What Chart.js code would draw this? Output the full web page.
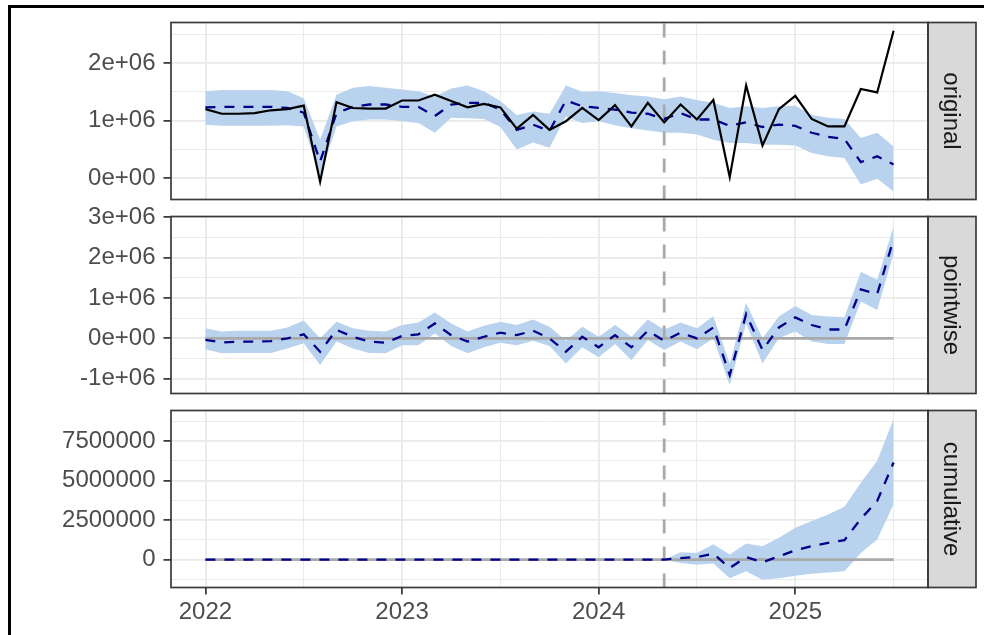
<!DOCTYPE html>
<html>
<head>
<meta charset="utf-8">
<script src="https://cdn.jsdelivr.net/npm/chart.js@4/dist/chart.umd.min.js"></script>
<style>
html,body{margin:0;padding:0;background:#fff;width:984px;height:635px;overflow:hidden;}
#frame{position:absolute;left:8px;top:5px;width:1000px;height:700px;border-left:3px solid #000;border-top:3px solid #000;box-sizing:border-box;}
canvas{position:absolute;left:0;top:0;}
</style>
</head>
<body>
<div id="frame"></div>
<canvas id="c1" width="984" height="635" style="width:984px;height:635px"></canvas>
<canvas id="c2" width="984" height="635" style="width:984px;height:635px"></canvas>
<canvas id="c3" width="984" height="635" style="width:984px;height:635px"></canvas>
<script>
// ---------------- DATA (values in millions) ----------------
const months = [
 '2022-01','2022-02','2022-03','2022-04','2022-05','2022-06','2022-07','2022-08','2022-09','2022-10','2022-11','2022-12',
 '2023-01','2023-02','2023-03','2023-04','2023-05','2023-06','2023-07','2023-08','2023-09','2023-10','2023-11','2023-12',
 '2024-01','2024-02','2024-03','2024-04','2024-05','2024-06','2024-07','2024-08','2024-09','2024-10','2024-11','2024-12',
 '2025-01','2025-02','2025-03','2025-04','2025-05','2025-06','2025-07'];
const interventionMonth = '2024-05';
const M = 1e6;

// panel "original"
const actual = [1.20,1.12,1.12,1.13,1.18,1.20,1.26,-0.06,1.32,1.22,1.21,1.21,1.35,1.35,1.45,1.34,1.23,1.29,1.23,0.86,1.10,0.84,0.99,1.22,1.01,1.27,0.90,1.31,0.97,1.28,1.02,1.36,0.02,1.61,0.57,1.20,1.43,1.03,0.90,0.90,1.55,1.49,2.56];
const predicted = [1.23,1.24,1.24,1.24,1.24,1.22,1.14,0.29,1.13,1.24,1.28,1.28,1.24,1.24,1.08,1.28,1.31,1.31,1.19,0.84,0.93,0.82,1.35,1.25,1.22,1.19,1.14,1.12,1.03,1.13,1.02,1.02,0.91,0.97,0.89,0.93,0.91,0.79,0.72,0.68,0.28,0.38,0.24];
const predUpper = [1.51,1.53,1.53,1.53,1.53,1.51,1.39,0.67,1.45,1.57,1.60,1.57,1.54,1.51,1.42,1.56,1.61,1.51,1.34,1.10,1.16,1.12,1.61,1.50,1.51,1.48,1.44,1.42,1.37,1.42,1.36,1.31,1.22,1.25,1.22,1.25,1.26,1.10,1.05,1.03,0.70,0.79,0.55];
const predLower = [0.93,0.91,0.91,0.91,0.91,0.92,0.90,0.03,0.90,0.99,1.02,1.02,0.99,0.96,0.79,1.05,1.04,1.03,0.89,0.50,0.62,0.53,1.07,0.96,0.99,0.92,0.87,0.83,0.79,0.79,0.76,0.67,0.61,0.61,0.58,0.58,0.57,0.44,0.38,0.35,-0.11,-0.01,-0.23];

// panel "pointwise"
const pointwise = [-0.04,-0.10,-0.08,-0.08,-0.07,0.00,0.10,-0.33,0.21,0.04,-0.08,-0.11,0.06,0.10,0.37,0.08,-0.08,0.04,0.14,0.08,0.19,0.00,-0.33,0.04,-0.22,0.08,-0.22,0.19,-0.06,0.14,0.00,0.27,-0.91,0.60,-0.29,0.27,0.52,0.33,0.22,0.22,1.21,1.10,2.45];
const pointUpper = [0.25,0.17,0.19,0.19,0.19,0.27,0.44,0.00,0.41,0.25,0.19,0.17,0.33,0.39,0.64,0.37,0.17,0.31,0.41,0.33,0.47,0.29,-0.06,0.29,0.04,0.33,0.04,0.47,0.22,0.39,0.25,0.55,-0.62,0.88,0.00,0.54,0.80,0.58,0.54,0.52,1.65,1.45,2.77];
const pointLower = [-0.27,-0.37,-0.36,-0.36,-0.36,-0.25,-0.12,-0.66,-0.08,-0.25,-0.36,-0.37,-0.17,-0.17,0.12,-0.19,-0.37,-0.22,-0.11,-0.17,-0.06,-0.19,-0.62,-0.22,-0.47,-0.14,-0.54,-0.04,-0.29,-0.08,-0.27,0.00,-1.16,0.37,-0.62,0.00,0.17,-0.08,-0.14,-0.14,0.91,0.70,2.11];

// panel "cumulative"
const cumulative = [0,0,0,0,0,0,0,0,0,0,0,0,0,0,0,0,0,0,0,0,0,0,0,0,0,0,0,0,0,0.10,0.17,0.38,-0.53,0.17,-0.17,0.21,0.59,0.85,1.06,1.23,2.58,3.71,6.14];
const cumUpper = [0,0,0,0,0,0,0,0,0,0,0,0,0,0,0,0,0,0,0,0,0,0,0,0,0,0,0,0,0,0.47,0.42,0.98,0.32,1.02,0.85,1.38,2.01,2.44,2.86,3.35,4.87,6.25,8.90];
const cumLower = [0,0,0,0,0,0,0,0,0,0,0,0,0,0,0,0,0,0,0,0,0,0,0,0,0,0,0,0,0,-0.21,-0.32,-0.25,-1.17,-0.74,-1.27,-1.17,-1.02,-0.89,-0.81,-0.74,0.42,1.27,3.50];

const baselineValue = 0;

// tick labels
const xTickMonths = ['2022-01','2023-01','2024-01','2025-01'];
const xTickLabels = ['2022','2023','2024','2025'];
const xMinorMonths = ['2022-07','2023-07','2024-07','2025-07'];

const origTicks = [0, 1, 2];
const origTickLabels = ['0e+00','1e+06','2e+06'];
const origMinor = [0.5, 1.5, 2.5];

const pointTicks = [-1, 0, 1, 2, 3];
const pointTickLabels = ['-1e+06','0e+00','1e+06','2e+06','3e+06'];
const pointMinor = [-0.5, 0.5, 1.5, 2.5];

const cumTicks = [0, 2.5, 5, 7.5];
const cumTickLabels = ['0','2500000','5000000','7500000'];
const cumMinor = [-1.25, 1.25, 3.75, 6.25, 8.75];

const stripLabels = ['original','pointwise','cumulative'];

// ---------------- DRAWING ----------------
const FONT = '"Liberation Sans", Arial, Helvetica, sans-serif';
const FSIZE = 24;
Chart.defaults.font.family = FONT;
Chart.defaults.font.size = FSIZE;

const xIdx = m => months.indexOf(m);
const toPts = arr => arr.map((v, i) => ({x: i, y: v * M}));
const vIdx = xIdx(interventionMonth);
const X_MIN = -2.1, X_MAX = 44.1;

const panelDeco = {
  id: 'panelDeco',
  afterDraw(chart, args, opts) {
    const {ctx, chartArea: a} = chart;
    ctx.save();
    const sw = 48;
    ctx.fillStyle = '#d9d9d9';
    ctx.fillRect(a.right, a.top, sw, a.bottom - a.top);
    ctx.strokeStyle = '#3a3a3a';
    ctx.lineWidth = 1.7;
    ctx.strokeRect(a.right, a.top, sw, a.bottom - a.top);
    ctx.strokeRect(a.left, a.top, a.right - a.left, a.bottom - a.top);
    ctx.translate(a.right + sw / 2, (a.top + a.bottom) / 2);
    ctx.rotate(Math.PI / 2);
    ctx.fillStyle = '#1a1a1a';
    ctx.font = FSIZE + 'px ' + FONT;
    ctx.textAlign = 'center';
    ctx.textBaseline = 'middle';
    ctx.fillText(opts.label, 0, 1);
    ctx.restore();
  }
};

function makePanel(id, cfg) {
  const yMajor = cfg.yTicks.map(v => v * M);
  const yMinor = cfg.yMinor.map(v => v * M);
  const xMajor = xTickMonths.map(xIdx);
  const xMinor = xMinorMonths.map(xIdx);
  const isMajY = v => yMajor.some(t => Math.abs(t - v) < 1);
  const isMajX = v => xMajor.includes(v);

  const datasets = [];
  if (cfg.actual) datasets.push({data: toPts(cfg.actual), borderColor: '#000', borderWidth: 2.2, pointRadius: 0, fill: false, tension: 0});
  datasets.push({data: toPts(cfg.mean), borderColor: '#00008b', borderWidth: 2.3, borderDash: [10, 9], pointRadius: 0, fill: false, tension: 0});
  datasets.push({data: [{x: vIdx, y: cfg.yMin * M}, {x: vIdx, y: cfg.yMax * M}], borderColor: '#a9a9a9', borderWidth: 2.8, borderDash: [14, 13], pointRadius: 0, fill: false});
  if (cfg.baseline) datasets.push({data: [{x: 0, y: baselineValue}, {x: months.length - 1, y: baselineValue}], borderColor: '#a9a9a9', borderWidth: 2.8, pointRadius: 0, fill: false});
  datasets.push({data: toPts(cfg.upper), borderColor: 'rgba(0,0,0,0)', borderWidth: 0, backgroundColor: '#b9d3ee', pointRadius: 0, fill: '+1', tension: 0});
  datasets.push({data: toPts(cfg.lower), borderColor: 'rgba(0,0,0,0)', borderWidth: 0, pointRadius: 0, fill: false, tension: 0});

  return new Chart(document.getElementById(id), {
    type: 'line',
    data: {datasets},
    plugins: [panelDeco],
    options: {
      responsive: false,
      animation: false,
      events: [],
      layout: {padding: {top: cfg.padTop, bottom: cfg.padBottom, left: 0, right: 56}},
      plugins: {legend: {display: false}, tooltip: {enabled: false}, panelDeco: {label: cfg.strip}},
      scales: {
        x: {
          type: 'linear', min: X_MIN, max: X_MAX,
          border: {display: false},
          afterBuildTicks: s => { s.ticks = [...xMajor, ...xMinor].sort((a, b) => a - b).map(v => ({value: v})); },
          afterFit: s => { s.height = cfg.showX ? 47.5 : 0; },
          grid: {
            color: '#e9e9e9',
            lineWidth: c => isMajX(c.tick.value) ? 1.8 : 0.9,
            drawTicks: cfg.showX,
            tickLength: 7,
            tickWidth: 1.7,
            tickColor: c => isMajX(c.tick.value) ? '#333' : 'rgba(0,0,0,0)'
          },
          ticks: {
            display: cfg.showX,
            autoSkip: false, maxRotation: 0, padding: 3,
            color: '#4d4d4d', font: {size: FSIZE},
            callback: v => { const k = xMajor.indexOf(v); return k >= 0 ? xTickLabels[k] : ''; }
          }
        },
        y: {
          type: 'linear', min: cfg.yMin * M, max: cfg.yMax * M,
          border: {display: false},
          afterBuildTicks: s => { s.ticks = [...yMajor, ...yMinor].sort((a, b) => a - b).map(v => ({value: v})); },
          afterFit: s => { s.width = 171; },
          grid: {
            color: '#e9e9e9',
            lineWidth: c => isMajY(c.tick.value) ? 1.8 : 0.9,
            drawTicks: true,
            tickLength: 7.5,
            tickWidth: 1.7,
            tickColor: c => isMajY(c.tick.value) ? '#333' : 'rgba(0,0,0,0)'
          },
          ticks: {
            autoSkip: false, padding: 8,
            color: '#4d4d4d', font: {size: FSIZE},
            callback: v => { const k = yMajor.findIndex(t => Math.abs(t - v) < 1); return k >= 0 ? cfg.yLabels[k] : ''; }
          }
        }
      }
    }
  });
}

makePanel('c1', {
  actual: actual, mean: predicted, upper: predUpper, lower: predLower, baseline: false,
  yMin: -0.369, yMax: 2.704, yTicks: origTicks, yLabels: origTickLabels, yMinor: origMinor,
  padTop: 22.5, padBottom: 635 - 199.5, showX: false, strip: stripLabels[0]
});
makePanel('c2', {
  mean: pointwise, upper: pointUpper, lower: pointLower, baseline: true,
  yMin: -1.365, yMax: 3.017, yTicks: pointTicks, yLabels: pointTickLabels, yMinor: pointMinor,
  padTop: 216.5, padBottom: 635 - 393.5, showX: false, strip: stripLabels[1]
});
makePanel('c3', {
  mean: cumulative, upper: cumUpper, lower: cumLower, baseline: true,
  yMin: -1.76, yMax: 9.43, yTicks: cumTicks, yLabels: cumTickLabels, yMinor: cumMinor,
  padTop: 410.5, padBottom: 0, showX: true, strip: stripLabels[2]
});
</script>
</body>
</html>
